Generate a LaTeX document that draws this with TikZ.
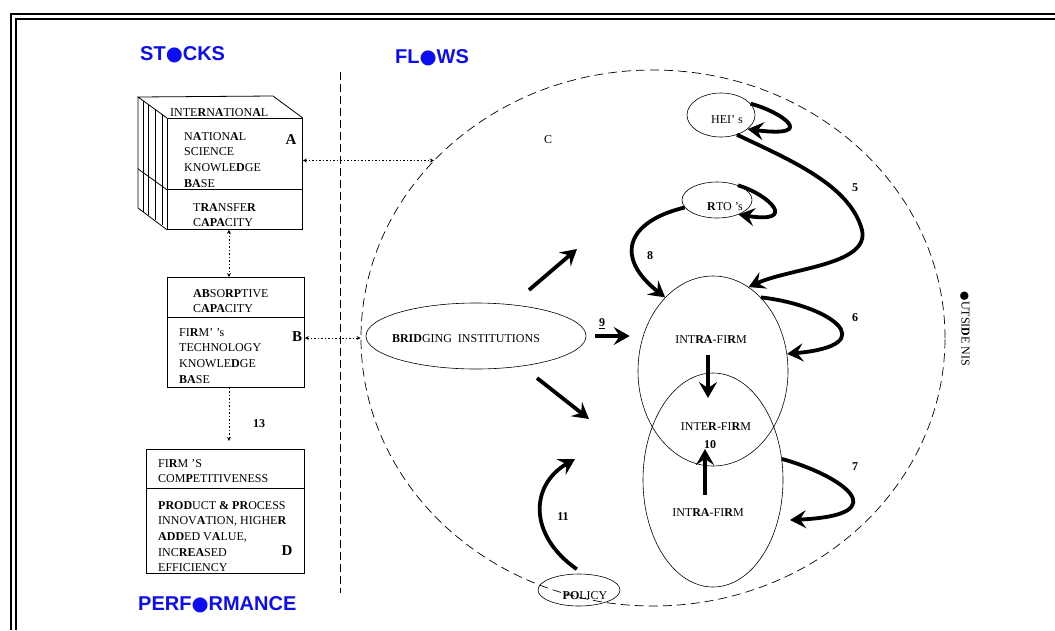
\documentclass[tikz,border=0pt]{standalone}
\usepackage{fontspec}
\setmainfont{Liberation Serif}
\newfontfamily\headfont{Liberation Sans}
\newfontfamily\dotfont{DejaVu Sans}
\usetikzlibrary{arrows.meta,calc,shapes.geometric}
\definecolor{HeadClr}{rgb}{0.05,0.05,0.95}
\newcommand\bl[1]{\textbf{#1}}
\newcommand\blob[1]{{\dotfont\scalebox{#1}{●}}}

\begin{document}
\begin{tikzpicture}[x=1pt,y=-1pt,
  panel/.style={draw,line width=0.8pt,inner sep=0pt,anchor=north west},
  txt/.style={inner sep=0pt,align=left,anchor=north west,font=\fontsize{12}{15.7}\selectfont},
  lbl/.style={inner sep=0pt,font=\fontsize{12}{14}\selectfont},
  num/.style={inner sep=0pt,font=\fontsize{12}{14}\selectfont\bfseries},
  tag/.style={inner sep=0pt,anchor=base,font=\fontsize{15}{18}\selectfont\bfseries},
  head/.style={inner sep=0pt,anchor=base west,text=HeadClr,font=\fontsize{20}{24}\headfont\bfseries},
  oval/.style={draw,ellipse,inner sep=0pt,line width=0.6pt},
  flow/.style={line width=3.8pt,-{Stealth[length=16pt,width=18pt,inset=6pt]}},
  link/.style={dash pattern=on 1.5pt off 2pt,line width=0.7pt,>={Stealth[length=4pt,width=4pt]}},
  frame/.style={line width=2pt}]
\useasboundingbox (0,0) rectangle (1055,630);

% frame
\draw[frame] (11,630) |- (1055,14);
\draw[frame] (16,630) |- (1055,19);

% headings
\node[head] (stocks) at (140,60) {ST\blob{0.98}CKS};
\node[head] (flows) at (395,63) {FL\blob{0.98}WS};
\node[head] (perfm) at (138,610) {PERF\blob{0.98}RMANCE};

\draw[dash pattern=on 8pt off 4pt,line width=0.7pt] (340,72) -- (340,593);

% stocks: knowledge base cube
\node[panel,minimum width=135pt,minimum height=71pt] (kbA) at (167,118) {};
\node[panel,minimum width=135pt,minimum height=40pt] (tcap) at (167,189) {};
\draw[line width=0.8pt] (kbA.north west) -- ++(-29,-21) coordinate (bk) -- ++(135,-1) -- (kbA.north east);
\draw[line width=0.8pt] (bk) -- ++(0,111) -- (tcap.south west);
\draw[line width=0.8pt] (kbA.south west) -- ++(-29,-21);
\foreach \hx in {5,10,17,24}
  \draw[line width=0.6pt] ($(bk)+(\hx,\hx*0.724)$) -- ++(0,111);

\node[inner sep=0pt,anchor=base west,font=\fontsize{12}{14}\selectfont] (intl) at (170,116) {INTE\bl{R}N\bl{A}TION\bl{A}L};
\node[txt] (natl) at (184,132) {N\bl{A}TION\bl{A}L\\SCIENCE\\KNOWLE\bl{D}GE\\\bl{BA}SE};
\node[tag] (lblA) at (291,144) {A};
\node[txt] (trans) at (193,203) {T\bl{RA}NSFE\bl{R}\\C\bl{APA}CITY};

% firm boxes
\node[panel,minimum width=137pt,minimum height=40pt] (absorb) at (167,277) {};
\node[panel,minimum width=137pt,minimum height=70pt] (fkb) at (167,317) {};
\node[txt] (absorbtxt) at (193,289) {\bl{AB}SO\bl{RP}TIVE\\C\bl{APA}CITY};
\node[txt] (fkbtxt) at (179,328) {FI\bl{R}M' 's\\TECHNOLOGY\\KNOWLE\bl{D}GE\\\bl{BA}SE};
\node[tag] (lblB) at (297,341) {B};

\node[panel,minimum width=158pt,minimum height=39pt] (comp) at (146,449) {};
\node[panel,minimum width=158pt,minimum height=85pt] (perf) at (146,488) {};
\node[txt] (comptxt) at (158,459) {FI\bl{R}M 'S\\COM\bl{P}ETITIVENESS};
\node[txt] (perftxt) at (158,501) {\bl{PROD}UCT \bl{\&} \bl{PR}OCESS\\INNOV\bl{A}TION, HIGHE\bl{R}\\\bl{ADD}ED V\bl{A}LUE,\\INC\bl{REA}SED\\EFFICIENCY};
\node[tag] (lblD) at (287,555) {D};
\node[num,anchor=base] (n13) at (259,427) {13};

% flows
\node[oval,dash pattern=on 9pt off 5pt,line width=0.7pt,minimum width=584pt,minimum height=536pt] (nis) at (653,338) {};
\node[lbl] (lblC) at (548,140) {C};
\node[lbl,rotate=-90] (outs) at (965,329) {\blob{0.9}UTSI\bl{D}E NIS};

\node[oval,minimum width=68pt,minimum height=44pt] (hei) at (721,115) {};
\node[lbl] (heitxt) at (727,120) {HEI' s};
\node[oval,minimum width=70pt,minimum height=36pt] (rto) at (717,200) {};
\node[lbl] (rtotxt) at (725,207) {\bl{R}TO 's};
\node[oval,minimum width=150pt,minimum height=190pt] (intraA) at (713,371) {};
\node[oval,minimum width=140pt,minimum height=214pt] (interB) at (713,480) {};
\node[lbl] (intraAtxt) at (711,340) {INT\bl{RA}-FI\bl{R}M};
\node[lbl] (intertxt) at (716,427) {INTE\bl{R}-FI\bl{R}M};
\node[lbl] (intraBtxt) at (708,513) {INT\bl{RA}-FI\bl{R}M};
\node[oval,minimum width=220pt,minimum height=66pt] (bridge) at (476,336) {};
\node[lbl] (bridgetxt) at (466,339) {\bl{BRID}GING\ \ INSTITUTIONS};
\node[oval,minimum width=82pt,minimum height=32pt] (policy) at (579,590) {};
\node[lbl] (policytxt) at (585,596) {\bl{PO}LICY};

% dotted links
\draw[link,<->] ([xshift=-6pt]tcap.south) -- ([xshift=-6pt]tcap.south |- absorb.north);
\draw[link,->,shorten >=8pt] ([xshift=-6pt]tcap.south |- fkb.south) -- ([xshift=-6pt]tcap.south |- comp.north);
\draw[link,<->] (kbA.east |- nis.141) -- (nis.141);
\draw[link,<->] (fkb.east |- nis.180) -- (nis.180);

% flow arrows
\coordinate (ur0) at (529,290); \coordinate (ur1) at (577,249);
\coordinate (dr0) at (537,378); \coordinate (dr1) at (589,419);
\coordinate (dn0) at (708,355); \coordinate (dn1) at (708,398);
\coordinate (up0) at (705,495); \coordinate (up1) at (705,449);
\coordinate (tip7) at (790,520);
\coordinate (tip11) at (575,459);

\draw[flow] (hei.21) .. controls (782,112) and (818,138) .. (hei.-28);
\draw[flow] (rto.35) .. controls (770,195) and (798,224) .. (rto.-34);
\draw[flow] (hei.-51) .. controls (790,160) and (850,185) .. (862,230) .. controls (870,265) and (790,268) .. (intraA.67);
\draw[flow] (rto.-167) .. controls (625,222) and (615,258) .. (intraA.123);
\draw[flow] (intraA.57) .. controls (830,305) and (885,345) .. (intraA.13);
\draw[flow] (interB.17) .. controls (840,475) and (900,515) .. (tip7);
\draw[flow,shorten <=9pt,shorten >=8pt] (bridge.east) -- (bridge.east -| intraA.west);
\draw[flow] (ur0) -- (ur1);
\draw[flow] (dr0) -- (dr1);
\draw[flow] (dn0) -- (dn1);
\draw[flow] (up0) -- (up1);
\draw[flow,shorten <=8pt] (policy.75) .. controls (528,535) and (530,485) .. (tip11);

\node[num] (n5) at (855,188) {5};
\node[num] (n8) at (650,256) {8};
\node[num] (n6) at (855,318) {6};
\node[num] (n9) at (602,324) {\underline{9}};
\node[num] (n7) at (855,467) {7};
\node[num] (n10) at (710,445) {10};
\node[num] (n11) at (563,517) {11};

\end{tikzpicture}
\end{document}
